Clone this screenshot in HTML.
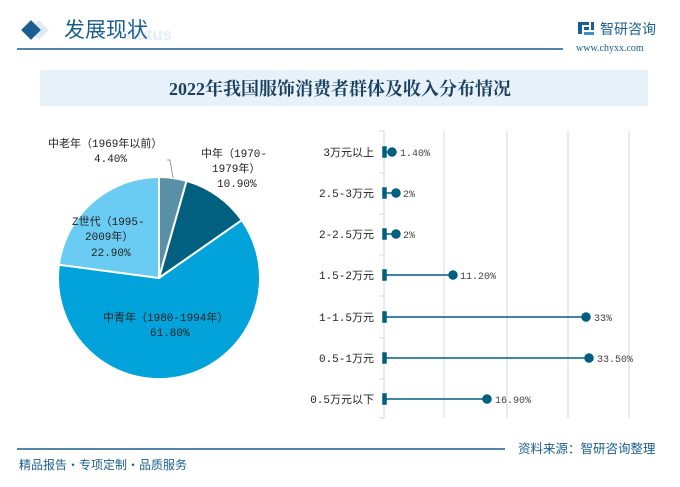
<!DOCTYPE html>
<html><head><meta charset="utf-8"><style>
body{margin:0;width:680px;height:487px;background:#fff;overflow:hidden;position:relative;font-family:"Liberation Sans","Noto Sans CJK SC",sans-serif}
.a{position:absolute;white-space:nowrap}
</style></head><body>
<svg class="a" style="left:0;top:0" width="680" height="487" xmlns="http://www.w3.org/2000/svg">
<rect x="32" y="23" width="14" height="14" transform="rotate(45 39 30)" fill="#c8dcec" opacity="0.6"/>
<rect x="24" y="23" width="14" height="14" transform="rotate(45 31 30)" fill="#1a5f8f"/>
<text x="122" y="40" font-family="Liberation Sans,sans-serif" font-weight="bold" font-size="17" fill="#e3eef6">status</text>
<text x="64" y="37" font-family="Noto Sans CJK SC,sans-serif" font-size="21" fill="#1a5f8f">发展现状</text>
<line x1="17" y1="49" x2="563" y2="49" stroke="#1a5f8f" stroke-width="1.5"/>
<g fill="#1a5f8f"><rect x="578" y="22" width="4" height="12"/><rect x="582" y="22" width="7" height="3"/><rect x="584" y="27" width="5" height="3"/><rect x="591" y="22" width="3" height="8"/><rect x="584" y="32" width="10" height="3" fill="#3a8fd0"/></g>
<text x="600" y="34" font-family="Noto Sans CJK SC,sans-serif" font-size="14" fill="#1a5f8f">智研咨询</text>
<text x="576" y="51" font-family="Liberation Serif,serif" font-size="10" fill="#1a5f8f">www.chyxx.com</text>
<rect x="40" y="70" width="608" height="36" fill="#e6f1f9"/>
<text x="340" y="95" text-anchor="middle" font-family="Liberation Serif,Noto Serif CJK SC,serif" font-weight="bold" font-size="18" fill="#1a3f5f">2022年我国服饰消费者群体及收入分布情况</text>
<!-- pie -->
<g stroke="#fff" stroke-width="2">
<path d="M159 278 L159 177 A101 101 0 0 1 186.6 180.9 Z" fill="#5a8fa8"/>
<path d="M159 278 L186.6 180.9 A101 101 0 0 1 241.8 220.2 Z" fill="#015f80"/>
<path d="M159 278 L241.8 220.2 A101 101 0 1 1 58.9 264.7 Z" fill="#02a3da"/>
<path d="M159 278 L58.9 264.7 A101 101 0 0 1 159 177 Z" fill="#6accf3"/>
</g>
<polyline points="173,178 170,160 167,160" fill="none" stroke="#999" stroke-width="1"/>
<g font-family="Liberation Mono,Noto Sans CJK SC,sans-serif" font-size="11" fill="#222">
<text x="48" y="147">中老年（1969年以前）</text><text x="94" y="162">4.40%</text>
<text x="201" y="157">中年（1970-</text><text x="212" y="172">1979年）</text><text x="217" y="187">10.90%</text>
<text x="72" y="225">Z世代（1995-</text><text x="85" y="240">2009年）</text><text x="91" y="256">22.90%</text>
<text x="103" y="321">中青年（1980-1994年）</text><text x="150" y="336">61.80%</text>
</g>
<!-- lollipop -->
<g stroke="#d9d9d9" stroke-width="1"><line x1="444" y1="131" x2="444" y2="418"/><line x1="507" y1="131" x2="507" y2="418"/><line x1="568" y1="131" x2="568" y2="418"/><line x1="629" y1="131" x2="629" y2="418"/>
<line x1="384" y1="131" x2="384" y2="418"/>
<line x1="379" y1="131" x2="384" y2="131"/><line x1="379" y1="173" x2="384" y2="173"/><line x1="379" y1="214" x2="384" y2="214"/><line x1="379" y1="255" x2="384" y2="255"/><line x1="379" y1="296" x2="384" y2="296"/><line x1="379" y1="338" x2="384" y2="338"/><line x1="379" y1="379" x2="384" y2="379"/><line x1="379" y1="418" x2="384" y2="418"/></g>
<g stroke="#015f80" stroke-width="1.5" fill="#015f80">
<line x1="384" y1="152" x2="392" y2="152"/><circle cx="392" cy="152" r="4"/><rect x="383" y="147" width="3" height="10"/>
<line x1="384" y1="193" x2="396" y2="193"/><circle cx="396" cy="193" r="4"/><rect x="383" y="188" width="3" height="10"/>
<line x1="384" y1="234" x2="396" y2="234"/><circle cx="396" cy="234" r="4"/><rect x="383" y="229" width="3" height="10"/>
<line x1="384" y1="275" x2="453" y2="275"/><circle cx="453" cy="275" r="4"/><rect x="383" y="270" width="3" height="10"/>
<line x1="384" y1="317" x2="586" y2="317"/><circle cx="586" cy="317" r="4"/><rect x="383" y="312" width="3" height="10"/>
<line x1="384" y1="358" x2="589" y2="358"/><circle cx="589" cy="358" r="4"/><rect x="383" y="353" width="3" height="10"/>
<line x1="384" y1="399" x2="487" y2="399"/><circle cx="487" cy="399" r="4"/><rect x="383" y="394" width="3" height="10"/>
</g>
<g font-family="Liberation Mono,Noto Sans CJK SC,sans-serif" font-size="11" fill="#222" text-anchor="end">
<text x="374" y="156">3万元以上</text><text x="374" y="197">2.5-3万元</text><text x="374" y="238">2-2.5万元</text><text x="374" y="279">1.5-2万元</text><text x="374" y="321">1-1.5万元</text><text x="374" y="362">0.5-1万元</text><text x="374" y="403">0.5万元以下</text>
</g>
<g font-family="Liberation Mono,sans-serif" font-size="10" fill="#444">
<text x="400" y="156">1.40%</text><text x="403" y="197">2%</text><text x="403" y="238">2%</text><text x="460" y="279">11.20%</text><text x="594" y="321">33%</text><text x="597" y="362">33.50%</text><text x="495" y="403">16.90%</text>
</g>
<line x1="17" y1="449" x2="505" y2="449" stroke="#1a5f8f" stroke-width="1.5"/>
<text x="518" y="453" font-family="Noto Sans CJK SC,sans-serif" font-size="12.5" fill="#1a5f8f">资料来源：智研咨询整理</text>
<text x="19" y="469" font-family="Noto Sans CJK SC,sans-serif" font-size="12" fill="#1a5f8f">精品报告・专项定制・品质服务</text>
</svg>
</body></html>
